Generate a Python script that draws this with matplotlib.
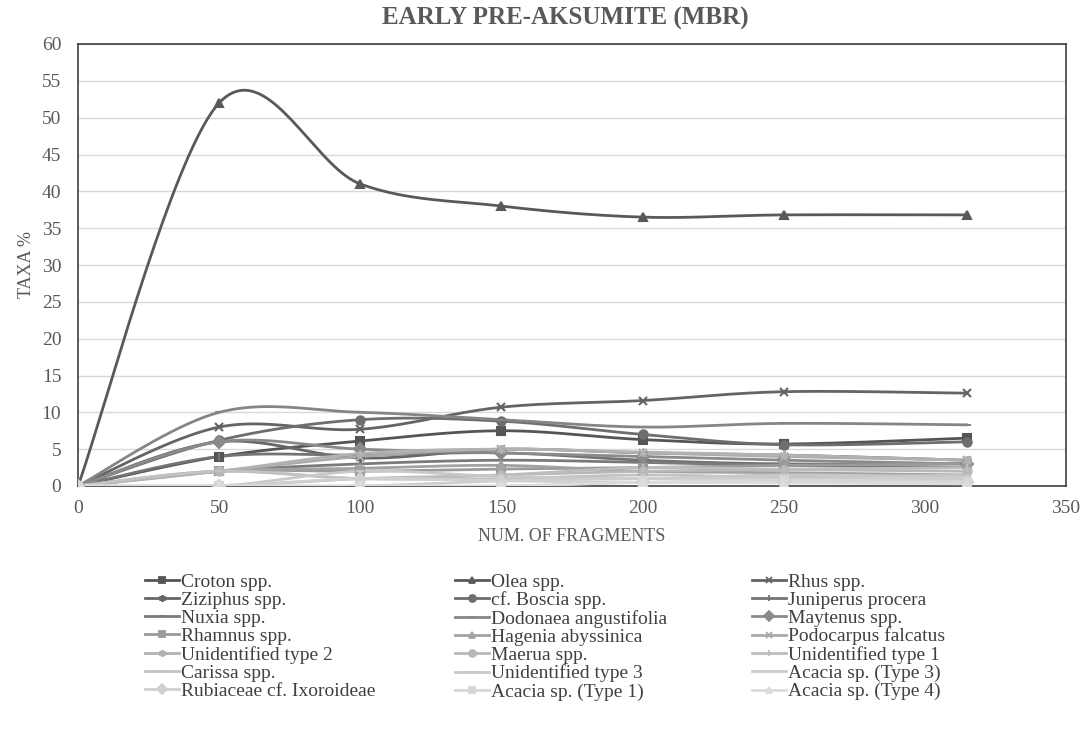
import numpy as np
import matplotlib
matplotlib.use("Agg")
import matplotlib.pyplot as plt

plt.rcParams['font.family'] = ['Liberation Serif', 'DejaVu Serif']

fragments = [0, 50, 100, 150, 200, 250, 315]

taxa = ['Croton spp.', 'Olea spp.', 'Rhus spp.',
        'Ziziphus spp.', 'cf. Boscia spp.', 'Juniperus procera',
        'Nuxia spp.', 'Dodonaea angustifolia', 'Maytenus spp.',
        'Rhamnus spp.', 'Hagenia abyssinica', 'Podocarpus falcatus',
        'Unidentified type 2', 'Maerua spp.', 'Unidentified type 1',
        'Carissa spp.', 'Unidentified type 3', 'Acacia sp. (Type 3)',
        'Rubiaceae cf. Ixoroideae', 'Acacia sp. (Type 1)', 'Acacia sp. (Type 4)']

croton = [0, 4.0, 6.1, 7.5, 6.3, 5.7, 6.5]
olea = [0, 52.0, 41.0, 38.0, 36.5, 36.8, 36.8]
rhus = [0, 8.0, 7.7, 10.7, 11.6, 12.8, 12.6]
ziziphus = [0, 6.0, 3.8, 5.0, 4.5, 4.2, 3.5]
boscia = [0, 6.2, 9.0, 8.8, 7.0, 5.6, 6.0]
juniperus = [0, 4.0, 4.2, 4.5, 3.5, 3.0, 3.0]
nuxia = [0, 2.0, 3.0, 3.5, 3.2, 2.8, 2.5]
dodonaea = [0, 10.0, 10.0, 9.0, 8.0, 8.5, 8.3]
maytenus = [0, 6.0, 5.0, 4.5, 4.0, 3.5, 3.0]
rhamnus = [0, 2.0, 2.0, 2.3, 2.5, 2.8, 3.0]
hagenia = [0, 2.0, 2.4, 2.8, 2.0, 1.8, 1.5]
podocarpus = [0, 2.0, 4.0, 5.0, 4.5, 4.0, 3.5]
unid2 = [0, 2.0, 4.4, 5.0, 4.6, 4.2, 3.5]
maerua = [0, 2.0, 1.0, 1.5, 2.0, 2.2, 2.0]
unid1 = [0, 0, 1.0, 1.5, 2.5, 2.3, 2.5]
carissa = [0, 2.0, 1.0, 1.0, 1.5, 1.2, 1.5]
unid3 = [0, 0, 2.0, 1.3, 1.0, 1.5, 1.2]
acacia3 = [0, 0, 0, 0.7, 1.0, 1.0, 1.0]
rubiaceae = [0, 0, 1.0, 0.7, 0.5, 0.5, 0.5]
acacia1 = [0, 0, 0, 0, 0.5, 0.8, 0.6]
acacia4 = [0, 0, 0, 0, 0.5, 0.4, 0.3]

values = [croton, olea, rhus, ziziphus, boscia, juniperus, nuxia, dodonaea,
          maytenus, rhamnus, hagenia, podocarpus, unid2, maerua, unid1,
          carissa, unid3, acacia3, rubiaceae, acacia1, acacia4]

asterisk = (6, 2, 0)
markers = ['s', '^', 'x', asterisk, 'o', '|', '_', '_', 'D',
           's', '^', 'x', asterisk, 'o', '|', '_', '_', '_', 'D', 's', '^']
colors = ['#555555', '#595959', '#646464', '#666666', '#6e6e6e', '#737373',
          '#7a7a7a', '#858585', '#8a8a8a', '#9a9a9a', '#a2a2a2', '#aaaaaa',
          '#b2b2b2', '#b8b8b8', '#bdbdbd', '#c2c2c2', '#c8c8c8', '#cccccc',
          '#d0d0d0', '#d6d6d6', '#dcdcdc']


def smooth(xs, ys, n=40):
    # Excel-like smoothed line (Catmull-Rom as cubic Bezier)
    pts = np.column_stack([xs, ys]).astype(float)
    out = []
    for i in range(len(pts) - 1):
        p0 = pts[i - 1] if i > 0 else pts[i]
        p1, p2 = pts[i], pts[i + 1]
        p3 = pts[i + 2] if i + 2 < len(pts) else pts[i + 1]
        c1 = p1 + (p2 - p0) / 6
        c2 = p2 - (p3 - p1) / 6
        t = np.linspace(0, 1, n)[:, None]
        seg = ((1 - t) ** 3) * p1 + 3 * ((1 - t) ** 2) * t * c1 + 3 * (1 - t) * t ** 2 * c2 + t ** 3 * p2
        out.append(seg)
    out = np.vstack(out)
    return out[:, 0], out[:, 1]


W, H = 1087, 733
fig = plt.figure(figsize=(W / 100, H / 100), dpi=100)
ax = fig.add_axes([78 / W, 1 - 486 / H, (1066 - 78) / W, (486 - 44) / H])

handles = []
for name, vals, m, c in zip(taxa, values, markers, colors):
    sx, sy = smooth(fragments, vals)
    ax.plot(sx, sy, color=c, lw=2, zorder=3, solid_capstyle='round')
    ax.plot(fragments, vals, ls='none', marker=m, color=c, ms=6, mew=1.5, zorder=4)
    h, = ax.plot([], [], color=c, lw=2, marker=m, ms=5, mew=1.3)
    handles.append(h)

ax.set_xlim(0, 350)
ax.set_ylim(0, 60)
ax.set_xticks(range(0, 351, 50))
ax.set_yticks(range(0, 61, 5))
ax.grid(axis='y', color='#d9d9d9', lw=1)
ax.set_axisbelow(True)
ax.tick_params(length=0, labelsize=14, labelcolor='#595959')
ax.tick_params(axis='y', pad=12)
ax.tick_params(axis='x', pad=10)
for s in ax.spines.values():
    s.set_color('#404040')
    s.set_linewidth(1.2)

ax.set_xlabel('NUM. OF FRAGMENTS', fontsize=13, color='#595959', labelpad=8)
ax.set_ylabel('TAXA %', fontsize=13, color='#595959', labelpad=5)
fig.suptitle('EARLY PRE-AKSUMITE (MBR)', x=0.52, y=0.99, fontsize=18,
             fontweight='bold', color='#595959')

# legend is read row by row in the original: one legend per column
col_x = [145, 455, 752]
for c in range(3):
    idx = list(range(c, len(taxa), 3))
    fig.legend([handles[i] for i in idx], [taxa[i] for i in idx],
               loc='upper left', bbox_to_anchor=(col_x[c] / W, 1 - 573 / H),
               frameon=False, fontsize=14, handlelength=1.75,
               handletextpad=0.1, labelspacing=0.03, borderpad=0,
               borderaxespad=0, labelcolor='#404040')

fig.savefig('out.png', dpi=100)
